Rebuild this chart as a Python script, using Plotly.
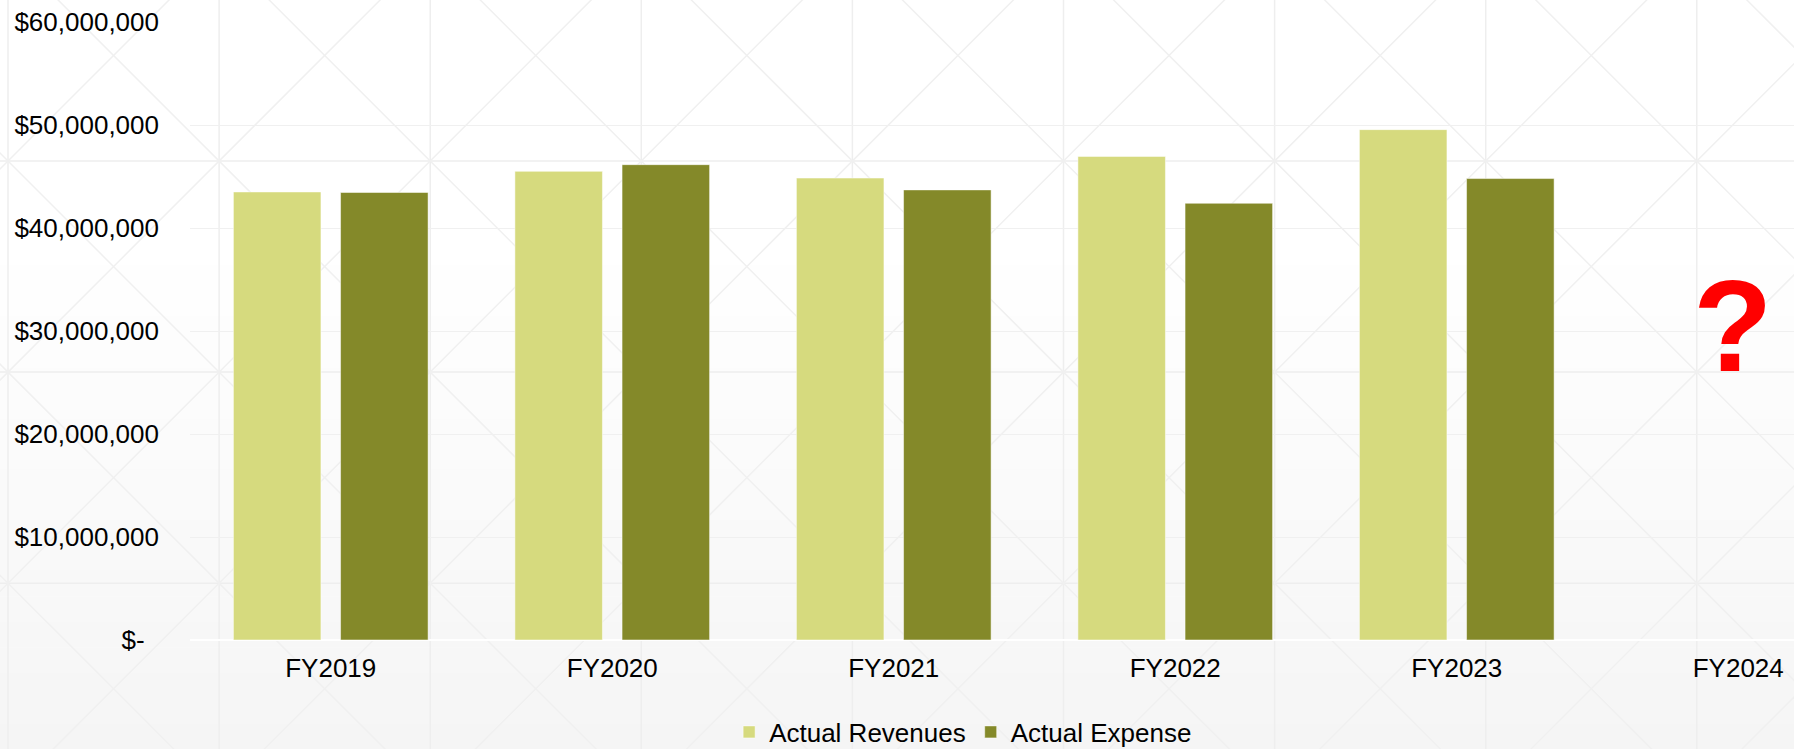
import plotly.graph_objects as go

# Fiscal years and actual results (US dollars); FY2024 is not yet known
years = ["FY2019", "FY2020", "FY2021", "FY2022", "FY2023", "FY2024"]
revenues = [43_500_000, 45_500_000, 44_850_000, 46_950_000, 49_550_000, None]
expenses = [43_450_000, 46_150_000, 43_700_000, 42_400_000, 44_800_000, None]

tick_vals = [0, 10_000_000, 20_000_000, 30_000_000, 40_000_000, 50_000_000, 60_000_000]
tick_text = ["$-\u00a0\u00a0", "$10,000,000", "$20,000,000", "$30,000,000",
             "$40,000,000", "$50,000,000", "$60,000,000"]

REV_COLOR = "#D6DA7E"
EXP_COLOR = "#848929"
FONT = "Liberation Sans, Arial, sans-serif"

W, H = 1794, 749
ML, MR, MT, MB = 190, 0, 22, 109
PW, PH = W - ML - MR, H - MT - MB


def px_x(x):
    return (x - ML) / PW


def px_y(y):
    return (H - MB - y) / PH


shapes = []

# soft vertical gradient of the slide background
n_bands = 40
g_top, g_bot = 240, H
for i in range(n_bands):
    y0 = g_top + (g_bot - g_top) * i / n_bands
    y1 = g_top + (g_bot - g_top) * (i + 1) / n_bands
    t = (i + 0.5) / n_bands
    v = round(255 - t * 10)
    shapes.append(dict(type="rect", xref="paper", yref="paper", layer="below",
                       x0=px_x(-5), x1=px_x(W + 5), y0=px_y(y1 + 0.5), y1=px_y(y0),
                       fillcolor=f"rgb({v},{v},{v})", line=dict(width=0)))

# faint square lattice with diagonals
step = 211.1
ox, oy = 8, 161
pat = dict(color="#eeeeee", width=1.5)
for k in range(-1, 10):
    x = ox + k * step
    shapes.append(dict(type="line", xref="paper", yref="paper", layer="below",
                       x0=px_x(x), x1=px_x(x), y0=px_y(-5), y1=px_y(H + 5), line=pat))
for k in range(-2, 5):
    y = oy + k * step
    shapes.append(dict(type="line", xref="paper", yref="paper", layer="below",
                       x0=px_x(-5), x1=px_x(W + 5), y0=px_y(y), y1=px_y(y), line=pat))
diag = dict(color="#f0f0f0", width=1.5)
for k in range(-6, 14):
    c = (ox - oy) + k * step          # x - y = c
    shapes.append(dict(type="line", xref="paper", yref="paper", layer="below",
                       x0=px_x(c - 10), y0=px_y(-10), x1=px_x(c + H + 10), y1=px_y(H + 10),
                       line=diag))
    c2 = (ox + oy) + k * step         # x + y = c2
    shapes.append(dict(type="line", xref="paper", yref="paper", layer="below",
                       x0=px_x(c2 + 10), y0=px_y(-10), x1=px_x(c2 - H - 10), y1=px_y(H + 10),
                       line=diag))

fig = go.Figure()
fig.add_trace(go.Bar(name="Actual Revenues", x=years, y=revenues,
                     marker=dict(color=REV_COLOR, line=dict(color="rgba(255,255,255,0.5)", width=1))))
fig.add_trace(go.Bar(name="Actual Expense", x=years, y=expenses,
                     marker=dict(color=EXP_COLOR, line=dict(color="rgba(255,255,255,0.5)", width=1))))

fig.update_layout(
    width=W, height=H,
    margin=dict(l=ML, r=MR, t=MT, b=MB, pad=0, autoexpand=False),
    paper_bgcolor="white",
    plot_bgcolor="rgba(0,0,0,0)",
    font=dict(family=FONT, size=26, color="#000000"),
    barmode="group",
    bargap=0.2387,
    bargroupgap=0.183,
    shapes=shapes,
    showlegend=True,
    legend=dict(orientation="h", x=0.482, xanchor="center", y=px_y(732), yanchor="middle",
                bgcolor="rgba(0,0,0,0)", font=dict(family=FONT, size=26, color="#000000"),
                itemwidth=30, traceorder="normal"),
    annotations=[dict(text="<b>?</b>", xref="paper", yref="paper",
                      x=px_x(1732), y=px_y(326), xanchor="center", yanchor="middle",
                      showarrow=False,
                      font=dict(family=FONT, size=130, color="#FF0000"))],
)

fig.update_xaxes(type="category", categoryorder="array", categoryarray=years,
                 range=[-0.5, -0.5 + PW / 281.5],
                 showgrid=False, showline=False, zeroline=False, ticks="",
                 ticklabelstandoff=10,
                 tickfont=dict(family=FONT, size=26, color="#000000"))
fig.update_yaxes(range=[0, 60_000_000], tickvals=tick_vals, ticktext=tick_text,
                 showgrid=True, gridcolor="#f0f0f0", gridwidth=1,
                 zeroline=True, zerolinecolor="#ffffff", zerolinewidth=2,
                 showline=False, ticks="", ticklabelstandoff=30,
                 tickfont=dict(family=FONT, size=26, color="#000000"))

fig.write_html("out.html")
